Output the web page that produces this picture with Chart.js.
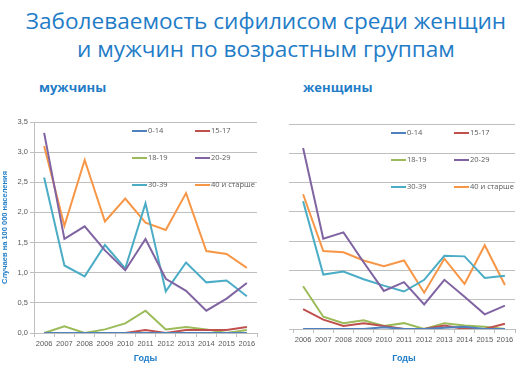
<!DOCTYPE html>
<html>
<head>
<meta charset="utf-8">
<script src="https://cdn.jsdelivr.net/npm/chart.js@4"></script>
<style>
  body { margin: 0; background: #fff; width: 529px; height: 368px; overflow: hidden; position: relative; font-family: "Open Sans", sans-serif; }
  .title { position: absolute; left: 0; width: 532px; text-align: center; color: #1f7cc7; font-size: 22.6px; line-height: 28px; top: 7px; }
  .sub { position: absolute; top: 78px; color: #1f7cc7; font-weight: bold; font-size: 13px; }
  .box { position: absolute; top: 100px; height: 268px; }
</style>
</head>
<body>
<div class="title">Заболеваемость сифилисом среди женщин<br>и мужчин по возрастным группам</div>
<div class="sub" style="left:39px">мужчины</div>
<div class="sub" style="left:303px">женщины</div>
<div class="box" style="left:0; width:264px"><canvas id="men"></canvas></div>
<div class="box" style="left:264px; width:265px"><canvas id="women"></canvas></div>
<script>
// годы и группы
const years = ['2006', '2007', '2008', '2009', '2010', '2011', '2012', '2013', '2014', '2015', '2016'];
const groups = ['0-14', '15-17', '18-19', '20-29', '30-39', '40 и старше'];
const colors = ['#4f81bd', '#c0504d', '#9bbb59', '#8064a2', '#4bacc6', '#f79646'];

// мужчины
const men0_14  = [0, 0, 0, 0, 0, 0, 0, 0, 0, 0, 0];
const men15_17 = [0, 0, 0, 0, 0, 0.05, 0, 0.05, 0.05, 0.05, 0.10];
const men18_19 = [0, 0.11, 0, 0.06, 0.16, 0.37, 0.06, 0.10, 0.06, 0, 0.05];
const men20_29 = [3.32, 1.56, 1.77, 1.37, 1.04, 1.56, 0.90, 0.70, 0.37, 0.57, 0.83];
const men30_39 = [2.58, 1.12, 0.94, 1.46, 1.07, 2.15, 0.69, 1.17, 0.84, 0.87, 0.61];
const men40    = [3.10, 1.78, 2.87, 1.85, 2.23, 1.83, 1.71, 2.32, 1.36, 1.31, 1.08];

// женщины
const women0_14  = [0, 0, 0, 0, 0.03, 0, 0, 0.02, 0.04, 0, 0];
const women15_17 = [0.34, 0.16, 0.05, 0.10, 0.05, 0, 0, 0.06, 0, 0, 0.09];
const women18_19 = [0.73, 0.21, 0.10, 0.15, 0.05, 0.10, 0, 0.10, 0.06, 0.04, 0];
const women20_29 = [3.09, 1.54, 1.65, 1.14, 0.65, 0.80, 0.42, 0.84, 0.55, 0.25, 0.40];
const women30_39 = [2.18, 0.93, 0.98, 0.85, 0.74, 0.64, 0.84, 1.25, 1.24, 0.87, 0.91];
const women40    = [2.30, 1.33, 1.31, 1.17, 1.07, 1.17, 0.62, 1.20, 0.77, 1.43, 0.75];

const yTicks = [0, 0.5, 1, 1.5, 2, 2.5, 3, 3.5];

// легенда внутри области графика, 3 ряда по 2
const legendInside = {
    id: 'legendInside',
    afterDraw(chart) {
        const ctx = chart.ctx;
        const a = chart.chartArea;
        const colX = [98, 161];
        const rowY = [9, 36, 63];
        ctx.save();
        ctx.font = '7.5px "Open Sans", sans-serif';
        ctx.fillStyle = '#595959';
        ctx.textBaseline = 'middle';
        chart.data.datasets.forEach((ds, i) => {
            const x = a.left + colX[i % 2];
            const y = a.top + rowY[Math.floor(i / 2)];
            ctx.strokeStyle = ds.borderColor;
            ctx.lineWidth = 2;
            ctx.beginPath();
            ctx.moveTo(x, y);
            ctx.lineTo(x + 15, y);
            ctx.stroke();
            ctx.fillText(ds.label, x + 16, y);
        });
        ctx.restore();
    }
};

function makeChart(id, series, showY) {
    const datasets = series.map((data, i) => ({
        label: groups[i],
        data,
        borderColor: colors[i],
        backgroundColor: colors[i],
        borderWidth: 2,
        pointRadius: 0,
        tension: 0,
        fill: false
    }));
    return new Chart(document.getElementById(id), {
        type: 'line',
        data: { labels: years, datasets },
        plugins: [legendInside],
        options: {
            responsive: true,
            maintainAspectRatio: false,
            animation: false,
            layout: { padding: { top: showY ? 22 : 24, right: showY ? 7 : 14, left: 0, bottom: 0 } },
            plugins: { legend: { display: false }, tooltip: { enabled: false } },
            scales: {
                x: {
                    offset: true,
                    afterFit: s => { s.height = showY ? 35 : 39; },
                    grid: { display: true, offset: true, drawOnChartArea: false, tickLength: 4, color: '#bfbfbf' },
                    border: { color: '#bfbfbf' },
                    ticks: { color: '#595959', font: { size: 7.5 }, maxRotation: 0, padding: 2 },
                    title: { display: true, text: 'Годы', color: '#1f7cc7', font: { size: 9, weight: 'bold' }, padding: { top: 0 } }
                },
                y: {
                    min: 0,
                    max: 3.5,
                    afterFit: s => { s.width = showY ? 34 : 29; },
                    afterBuildTicks: s => { s.ticks = yTicks.map(v => ({ value: v })); },
                    grid: { color: '#bfbfbf', tickLength: 4 },
                    border: { display: showY, color: '#bfbfbf' },
                    ticks: {
                        display: showY,
                        color: '#595959',
                        font: { size: 7.5 },
                        padding: 2,
                        callback: v => v.toFixed(1).replace('.', ',')
                    },
                    title: {
                        display: showY,
                        text: 'Случаев на 100 000 населения',
                        color: '#1f7cc7',
                        font: { size: 7.5, weight: 'bold' },
                        padding: 0
                    }
                }
            }
        }
    });
}

makeChart('men', [men0_14, men15_17, men18_19, men20_29, men30_39, men40], true);
makeChart('women', [women0_14, women15_17, women18_19, women20_29, women30_39, women40], false);
</script>
</body>
</html>
